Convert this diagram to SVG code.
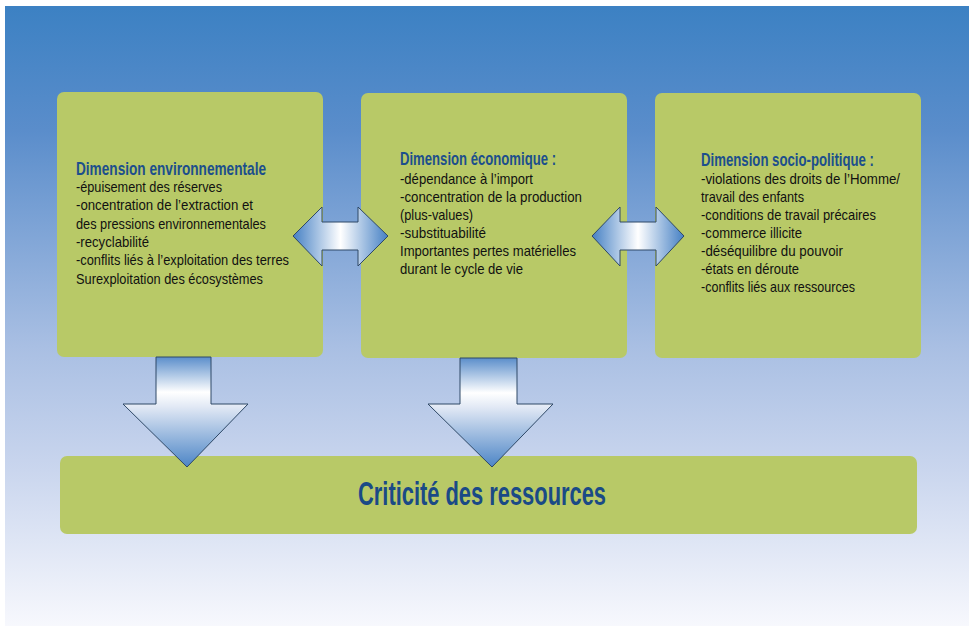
<svg xmlns="http://www.w3.org/2000/svg" width="969" height="626" viewBox="0 0 969 626">
  <defs>
    <linearGradient id="bg" x1="0" y1="6" x2="0" y2="626" gradientUnits="userSpaceOnUse">
      <stop offset="0" stop-color="#3c81c3"/>
      <stop offset="0.2" stop-color="#5a8dcb"/>
      <stop offset="0.55" stop-color="#a9bfe3"/>
      <stop offset="0.75" stop-color="#cad6ee"/>
      <stop offset="1" stop-color="#f7f8fd"/>
    </linearGradient>
    <linearGradient id="hArrow" x1="0" y1="0" x2="1" y2="0">
      <stop offset="0" stop-color="#4580c4"/>
      <stop offset="0.5" stop-color="#ffffff"/>
      <stop offset="1" stop-color="#4580c4"/>
    </linearGradient>
    <linearGradient id="vArrow" x1="0" y1="0" x2="0" y2="1">
      <stop offset="0" stop-color="#5b8ecb"/>
      <stop offset="0.32" stop-color="#ffffff"/>
      <stop offset="0.45" stop-color="#e2e9f5"/>
      <stop offset="1" stop-color="#4c85c6"/>
    </linearGradient>
    <style>
      .box { fill: #b8c967; }
      .arrow { stroke: #2e4866; stroke-width: 1; }
      .title { font-family: "Liberation Sans Narrow", "Liberation Sans", "DejaVu Sans Condensed", sans-serif; font-weight: bold; font-size: 18.5px; fill: #1c4f8c; }
      .body { font-family: "Liberation Sans Narrow", "Liberation Sans", "DejaVu Sans Condensed", sans-serif; font-size: 14.5px; fill: #111111; }
      .main { font-family: "Liberation Sans Narrow", "Liberation Sans", "DejaVu Sans Condensed", sans-serif; font-weight: bold; font-size: 33px; fill: #1a4a86; }
    </style>
  </defs>

  <!-- backdrop -->
  <rect x="5" y="6" width="964" height="620" fill="url(#bg)"/>

  <!-- environmental dimension -->
  <g id="env">
    <rect class="box" x="57" y="92" width="266" height="265" rx="7"/>
    <text class="title" x="76" y="175" textLength="190" lengthAdjust="spacingAndGlyphs">Dimension environnementale</text>
    <text class="body" x="76" y="192" textLength="146" lengthAdjust="spacingAndGlyphs">-épuisement des réserves</text>
    <text class="body" x="76" y="210" textLength="177" lengthAdjust="spacingAndGlyphs">-oncentration de l’extraction et</text>
    <text class="body" x="76" y="229" textLength="190" lengthAdjust="spacingAndGlyphs">des pressions environnementales</text>
    <text class="body" x="76" y="247" textLength="73" lengthAdjust="spacingAndGlyphs">-recyclabilité</text>
    <text class="body" x="76" y="265" textLength="213" lengthAdjust="spacingAndGlyphs">-conflits liés à l’exploitation des terres</text>
    <text class="body" x="76" y="284" textLength="187" lengthAdjust="spacingAndGlyphs">Surexploitation des écosystèmes</text>
  </g>

  <!-- economic dimension -->
  <g id="eco">
    <rect class="box" x="361" y="93" width="266" height="265" rx="7"/>
    <text class="title" x="400" y="165" textLength="156" lengthAdjust="spacingAndGlyphs">Dimension économique :</text>
    <text class="body" x="400" y="184" textLength="133" lengthAdjust="spacingAndGlyphs">-dépendance à l’import</text>
    <text class="body" x="400" y="202" textLength="182" lengthAdjust="spacingAndGlyphs">-concentration de la production</text>
    <text class="body" x="400" y="220" textLength="73" lengthAdjust="spacingAndGlyphs">(plus-values)</text>
    <text class="body" x="400" y="238" textLength="86" lengthAdjust="spacingAndGlyphs">-substituabilité</text>
    <text class="body" x="400" y="256" textLength="176" lengthAdjust="spacingAndGlyphs">Importantes pertes matérielles</text>
    <text class="body" x="400" y="274" textLength="123" lengthAdjust="spacingAndGlyphs">durant le cycle de vie</text>
  </g>

  <!-- socio-political dimension -->
  <g id="socio">
    <rect class="box" x="655" y="93" width="266" height="265" rx="7"/>
    <text class="title" x="701" y="166" textLength="173" lengthAdjust="spacingAndGlyphs">Dimension socio-politique :</text>
    <text class="body" x="701" y="184" textLength="199" lengthAdjust="spacingAndGlyphs">-violations des droits de l’Homme/</text>
    <text class="body" x="701" y="202" textLength="103" lengthAdjust="spacingAndGlyphs">travail des enfants</text>
    <text class="body" x="701" y="220" textLength="175" lengthAdjust="spacingAndGlyphs">-conditions de travail précaires</text>
    <text class="body" x="701" y="238" textLength="101" lengthAdjust="spacingAndGlyphs">-commerce illicite</text>
    <text class="body" x="701" y="256" textLength="142" lengthAdjust="spacingAndGlyphs">-déséquilibre du pouvoir</text>
    <text class="body" x="701" y="274" textLength="98" lengthAdjust="spacingAndGlyphs">-états en déroute</text>
    <text class="body" x="701" y="292" textLength="154" lengthAdjust="spacingAndGlyphs">-conflits liés aux ressources</text>
  </g>

  <!-- resource criticality -->
  <g id="crit">
    <rect class="box" x="60" y="456" width="857" height="78" rx="7"/>
    <text class="main" x="358" y="505" textLength="248" lengthAdjust="spacingAndGlyphs">Criticité des ressources</text>
  </g>

  <!-- connectors -->
  <g id="connectors">
    <polygon class="arrow" fill="url(#hArrow)" points="293,236 322,207 322,222 358,222 358,207 388,236 358,266 358,250 322,250 322,266"/>
    <polygon class="arrow" fill="url(#hArrow)" points="592,236 620,207 620,222 656,222 656,207 684,236 656,266 656,250 620,250 620,266"/>
    <polygon class="arrow" fill="url(#vArrow)" points="156,357 211,357 211,404 248,404 187,467 123,404 156,404"/>
    <polygon class="arrow" fill="url(#vArrow)" points="460,358 517,358 517,404 553,404 492,467 428,404 460,404"/>
  </g>
</svg>
